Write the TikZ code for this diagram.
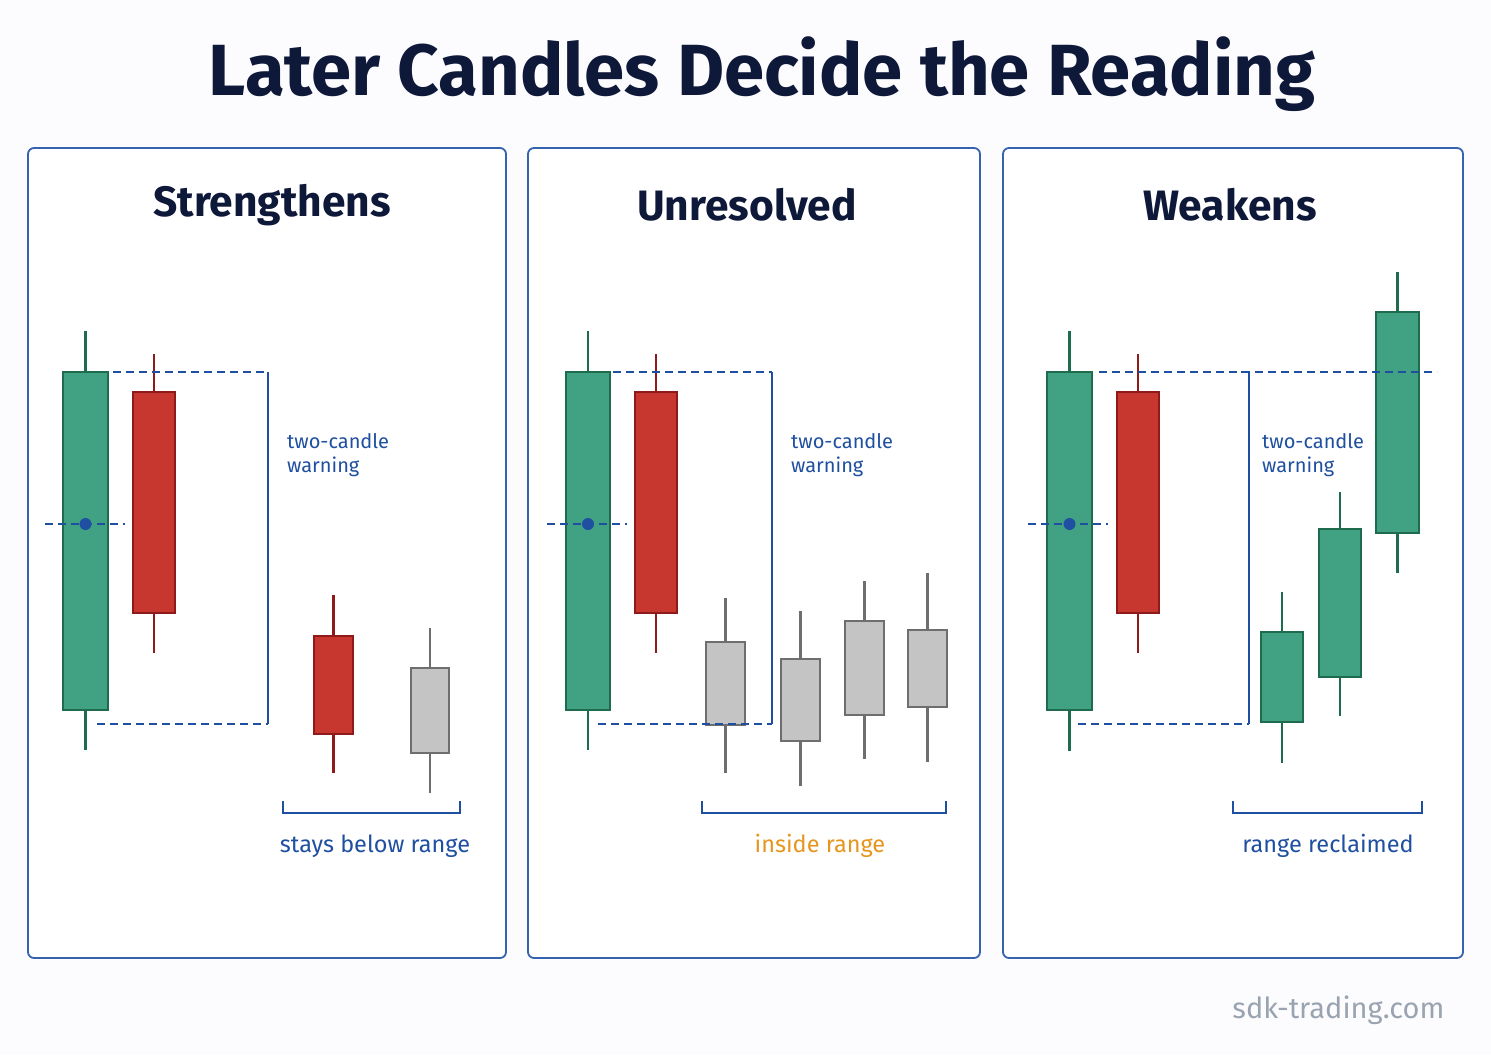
\documentclass[tikz,border=0pt]{standalone}
\usepackage{fontspec}
\setmainfont{Fira Sans}
\usetikzlibrary{positioning}

\definecolor{candlegreen}{HTML}{41A283}
\definecolor{greenedge}{HTML}{1E6B4E}
\definecolor{candlered}{HTML}{C8372F}
\definecolor{rededge}{HTML}{8E1A1A}
\definecolor{candlegray}{HTML}{C4C4C4}
\definecolor{grayedge}{HTML}{6E6E6E}
\definecolor{markblue}{HTML}{1F4FA0}
\definecolor{panelblue}{HTML}{3563B0}
\definecolor{titlenavy}{HTML}{0E1838}
\definecolor{rangeorange}{HTML}{E6961E}
\definecolor{footgray}{HTML}{9AA3B0}

% x, wick top, body top, body bottom, wick bottom, half width, colour kind
\newcommand{\candle}[7]{%
  \draw[#7wick] (#1,#2) -- (#1,#3);
  \draw[#7wick] (#1,#4) -- (#1,#5);
  \draw[#7body] (#1-#6,#3) rectangle (#1+#6,#4);
}

\tikzset{
  greenwick/.style={draw=greenedge,line width=2.8pt},
  greenbody/.style={draw=greenedge,fill=candlegreen,line width=2pt},
  redwick/.style={draw=rededge,line width=2.8pt},
  redbody/.style={draw=rededge,fill=candlered,line width=2pt},
  graywick/.style={draw=grayedge,line width=2.8pt},
  graybody/.style={draw=grayedge,fill=candlegray,line width=2pt},
  panel/.style={draw=panelblue,line width=1.8pt,rounded corners=6pt,fill=white},
  rangeline/.style={draw=markblue,line width=1.8pt,dash pattern=on 8pt off 5pt},
  bracket/.style={draw=markblue,line width=2pt},
  paneltitle/.style={font=\fontsize{42.5}{50}\selectfont\bfseries,text=titlenavy},
  warnlabel/.style={font=\fontsize{20}{24}\selectfont,text=markblue,align=left,anchor=north west,inner sep=0pt},
  rangelabel/.style={font=\fontsize{23.5}{28}\selectfont,text=markblue},
  middot/.style={circle,fill=markblue,inner sep=0pt,minimum size=12pt}
}

\begin{document}
\begin{tikzpicture}[x=1pt,y=-1pt]
\useasboundingbox (0,0) rectangle (1491,1055);
\fill[white!98!blue!60] (0,0) rectangle (1491,1055);

\node[font=\fontsize{72.5}{80}\selectfont\bfseries,text=titlenavy] (heading) at (762,74) {Later Candles Decide the Reading};

% the three panels
\draw[panel] (28,148) rectangle (506,958);
\draw[panel] (528,148) rectangle (980,958);
\draw[panel] (1003,148) rectangle (1463,958);

\node[paneltitle] (strong) at (272,205) {Strengthens};
\node[paneltitle] (open) at (747,205) {Unresolved};
\node[paneltitle] (weak) at (1230,205) {Weakens};

% panel 1
\candle{85.5}{331}{372}{710}{750}{22.5}{green}
\candle{154}{354}{392}{613}{653}{21}{red}
\candle{333.5}{595}{636}{734}{773}{19.5}{red}
\candle{430}{628}{668}{753}{793}{19}{gray}
\draw[rangeline] (45,524) -- (125,524);
\draw[rangeline] (113,372) -- (268,372);
\draw[rangeline] (97,724) -- (268,724);
\draw[bracket] (268,372) -- (268,724);
\node[middot] (mid1) at (85.5,524) {};
\node[warnlabel] (warn1) at (287,433) {two-candle\\warning};
\draw[bracket] (283,801) |- (460,813) -- (460,801);
\node[rangelabel] (below) at (375,846) {stays below range};

% panel 2
\candle{588}{331}{372}{710}{750}{22}{green}
\candle{656}{354}{392}{613}{653}{21}{red}
\candle{725.5}{598}{642}{725}{773}{19.5}{gray}
\candle{800.5}{611}{659}{741}{786}{19.5}{gray}
\candle{864.5}{581}{621}{715}{759}{19.5}{gray}
\candle{927.5}{573}{630}{707}{762}{19.5}{gray}
\draw[rangeline] (547,524) -- (627,524);
\draw[rangeline] (613,372) -- (772,372);
\draw[rangeline] (598,724) -- (772,724);
\draw[bracket] (772,372) -- (772,724);
\node[middot] (mid2) at (588,524) {};
\node[warnlabel] (warn2) at (791,433) {two-candle\\warning};
\draw[bracket] (702,801) |- (946,813) -- (946,801);
\node[rangelabel,text=rangeorange] (inside) at (820,846) {inside range};

% panel 3
\candle{1069.5}{331}{372}{710}{751}{22.5}{green}
\candle{1138}{354}{392}{613}{653}{21}{red}
\candle{1282}{592}{632}{722}{763}{21}{green}
\candle{1340}{492}{529}{677}{716}{21}{green}
\candle{1397.5}{272}{312}{533}{573}{21.5}{green}
\draw[rangeline] (1028,524) -- (1108,524);
\draw[rangeline] (1099,372) -- (1437,372);
\draw[rangeline] (1078,724) -- (1249,724);
\draw[bracket] (1241,372) -- (1249,372) -- (1249,724);
\node[middot] (mid3) at (1069.5,524) {};
\node[warnlabel] (warn3) at (1262,433) {two-candle\\warning};
\draw[bracket] (1233,801) |- (1422,813) -- (1422,801);
\node[rangelabel] (reclaim) at (1328,846) {range reclaimed};

\node[font=\fontsize{29}{34}\selectfont,text=footgray,anchor=east] (site) at (1448,1010) {sdk-trading.com};
\end{tikzpicture}
\end{document}
